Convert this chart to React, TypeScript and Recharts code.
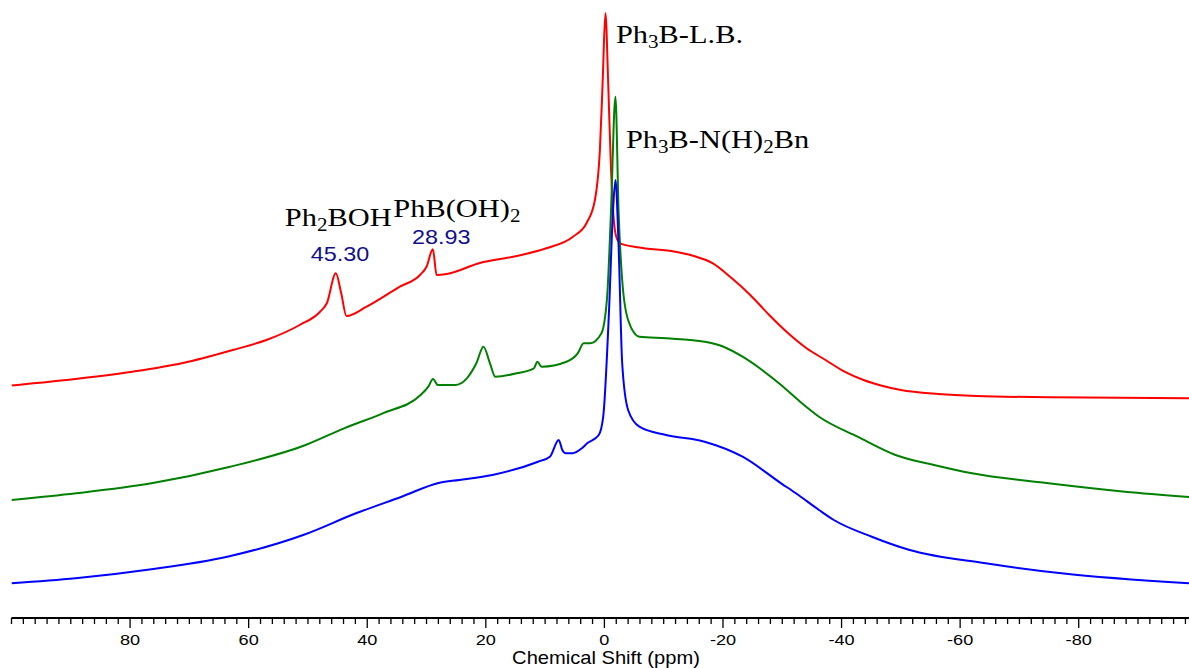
import { LineChart, Line, XAxis, YAxis, ReferenceDot } from "recharts";

// 11B NMR traces: ppm vs. relative height (arbitrary units)
const redPpm = [100, 90.8, 79.6, 71.1, 62.7, 57.0, 51.4, 48.0, 46.8, 45.3, 44.4, 43.5, 40.1, 34.5, 31.1, 30.0, 28.93, 28.3, 26.6, 21.0, 15.4, 9.8, 5.3, 3.0, 1.6, 0.76, 0.3, -0.17, -0.64, -1.1, -1.49, -2.06, -2.7, -5.6, -11.9, -15.1, -18.3, -21.5, -24.6, -27.8, -31.0, -34.1, -37.3, -40.5, -43.7, -46.8, -50.0, -56.3, -62.7, -75.4, -98.6];
const redInt = [232.5, 238, 246.3, 255, 268, 278, 293, 306, 315, 344.7, 325, 302, 311.3, 331.3, 343, 351.3, 368.7, 343, 344, 355, 361.3, 369.7, 381.3, 395, 418, 468, 535, 605, 535, 451, 405, 380, 374.7, 370.7, 366.3, 362, 354.7, 339.7, 323, 303, 284.7, 269.7, 258, 246.3, 238, 232.3, 228, 224, 222, 220.7, 219.7];

const greenPpm = [100, 89.1, 76.4, 63.3, 50.4, 43.9, 37.4, 31.0, 29.7, 28.9, 28.1, 25.2, 23.2, 21.6, 20.4, 19.3, 18.4, 14.8, 11.9, 11.3, 10.6, 6.4, 4.5, 3.5, 2.4, 0.5, -0.46, -1.1, -1.86, -2.4, -3.0, -4.0, -5.9, -10.4, -16.9, -20.1, -23.3, -26.6, -29.8, -33.0, -36.2, -42.7, -49.1, -55.6, -62.0, -74.9, -87.8, -98.6];
const greenInt = [118, 124.7, 134.7, 151, 173, 189.7, 204.7, 223, 231.3, 239, 233, 233, 239.7, 254.7, 271.3, 254.7, 241.3, 244.7, 249.7, 256.3, 251.3, 256.3, 264.7, 274.7, 274.7, 284.7, 321.3, 404.7, 521.3, 404.7, 338, 298, 281.3, 279.7, 276.3, 271.3, 261.3, 248, 233, 216.3, 201.3, 181.3, 163, 153, 144.7, 134.7, 126.3, 121];

const bluePpm = [100, 89.2, 76.4, 63.6, 50.8, 41.9, 34.2, 27.8, 24.5, 18.9, 11.2, 9.2, 7.7, 7.1, 6.5, 5.4, 3.8, 2.9, 0.95, 0.2, -0.76, -1.43, -1.86, -2.4, -3.0, -4.0, -5.9, -10.4, -16.9, -23.3, -29.8, -32.3, -36.2, -38.7, -45.1, -51.5, -64.3, -77.1, -98.6];
const blueInt = [34.7, 39.7, 48.7, 61.3, 83, 104.7, 121.3, 135.3, 138, 143, 156.3, 161.3, 178, 168, 164.7, 164.7, 169.7, 174.7, 183, 201.3, 304.7, 404.7, 438, 371.3, 254.7, 208, 191.3, 183, 176.3, 161.3, 134.7, 124.7, 108, 98, 81.3, 68, 54.7, 44.7, 34.7];

const majorTicks = [80, 60, 40, 20, 0, -20, -40, -60, -80];
const allTicks = Array.from({ length: 100 }, (_, i) => 100 - i * 2);

const toRows = (ppm: number[], h: number[]) => ppm.map((p, i) => ({ ppm: p, h: h[i] }));

const SERIF = "'Liberation Serif', 'Times New Roman', serif";
const SANS = "'Liberation Sans', Arial, sans-serif";
const SX = 1.17; // the figure is a little stretched sideways

// chemical formula with subscripts: parts alternate normal / subscript
function Formula({ cx, cy, parts }: { cx?: number; cy?: number; parts: string[] }) {
  return (
    <g transform={`translate(${cx},${cy}) scale(${SX},1)`}>
      <text x={0} y={0} fontFamily={SERIF} fontSize={26} fill="#000">
        {parts.map((p, i) =>
          i % 2 === 1 ? (
            <tspan key={i} fontSize={18} dy={5}>{p}</tspan>
          ) : (
            <tspan key={i} dy={i === 0 ? 0 : -5}>{p}</tspan>
          ),
        )}
      </text>
    </g>
  );
}

function ShiftLabel({ cx, cy, value }: { cx?: number; cy?: number; value: string }) {
  return (
    <g transform={`translate(${cx},${cy}) scale(${SX},1)`}>
      <text x={0} y={0} textAnchor="middle" fontFamily={SANS} fontSize={20} fill="#10108a">{value}</text>
    </g>
  );
}

function PpmTick({ x, y, payload }: any) {
  const v = payload.value;
  const major = majorTicks.includes(v);
  return (
    <g>
      <line x1={x} x2={x} y1={y} y2={y + (major ? 10 : 6)} stroke="#000" strokeWidth={1.3} />
      {major && (
        <g transform={`translate(${x},${y + 27}) scale(${SX},1)`}>
          <text x={0} y={0} textAnchor="middle" fontFamily={SANS} fontSize={15.5} fill="#000">{v}</text>
        </g>
      )}
    </g>
  );
}

const AxisTitle = () => (
  <g transform={`translate(606,664) scale(1.15,1)`}>
    <text x={0} y={0} textAnchor="middle" fontFamily={SANS} fontSize={17.5} fill="#000">Chemical Shift (ppm)</text>
  </g>
);

export default function App() {
  return (
    <div style={{ position: "absolute", left: 0, top: 0, width: 1189, height: 668, background: "#fff" }}>
      <LineChart width={1189} height={668} margin={{ top: 0, right: 0, left: 11.5, bottom: 0 }}>
        <XAxis
          type="number"
          dataKey="ppm"
          domain={[-98.6, 100]}
          reversed
          allowDataOverflow
          ticks={allTicks}
          interval={0}
          tick={<PpmTick />}
          tickLine={false}
          tickSize={0}
          tickMargin={0}
          height={50}
          axisLine={{ stroke: "#000", strokeWidth: 2 }}
          label={{ content: () => <AxisTitle /> }}
        />
        <YAxis type="number" dataKey="h" domain={[0, 618]} hide allowDataOverflow />
        <Line data={toRows(redPpm, redInt)} dataKey="h" type="monotone" stroke="#ff0000" strokeWidth={2} dot={false} isAnimationActive={false} />
        <Line data={toRows(greenPpm, greenInt)} dataKey="h" type="monotone" stroke="#008000" strokeWidth={2} dot={false} isAnimationActive={false} />
        <Line data={toRows(bluePpm, blueInt)} dataKey="h" type="monotone" stroke="#0000ff" strokeWidth={2} dot={false} isAnimationActive={false} />
        <ReferenceDot x={-1.94} y={575.3} r={0} shape={(p: any) => <Formula cx={p.cx} cy={p.cy} parts={["Ph", "3", "B-L.B."]} />} />
        <ReferenceDot x={-3.63} y={470} r={0} shape={(p: any) => <Formula cx={p.cx} cy={p.cy} parts={["Ph", "3", "B-N(H)", "2", "Bn"]} />} />
        <ReferenceDot x={53.9} y={392} r={0} shape={(p: any) => <Formula cx={p.cx} cy={p.cy} parts={["Ph", "2", "BOH"]} />} />
        <ReferenceDot x={35.6} y={400.7} r={0} shape={(p: any) => <Formula cx={p.cx} cy={p.cy} parts={["PhB(OH)", "2"]} />} />
        <ReferenceDot x={44.6} y={357} r={0} shape={(p: any) => <ShiftLabel cx={p.cx} cy={p.cy} value="45.30" />} />
        <ReferenceDot x={27.5} y={374} r={0} shape={(p: any) => <ShiftLabel cx={p.cx} cy={p.cy} value="28.93" />} />
      </LineChart>
    </div>
  );
}
